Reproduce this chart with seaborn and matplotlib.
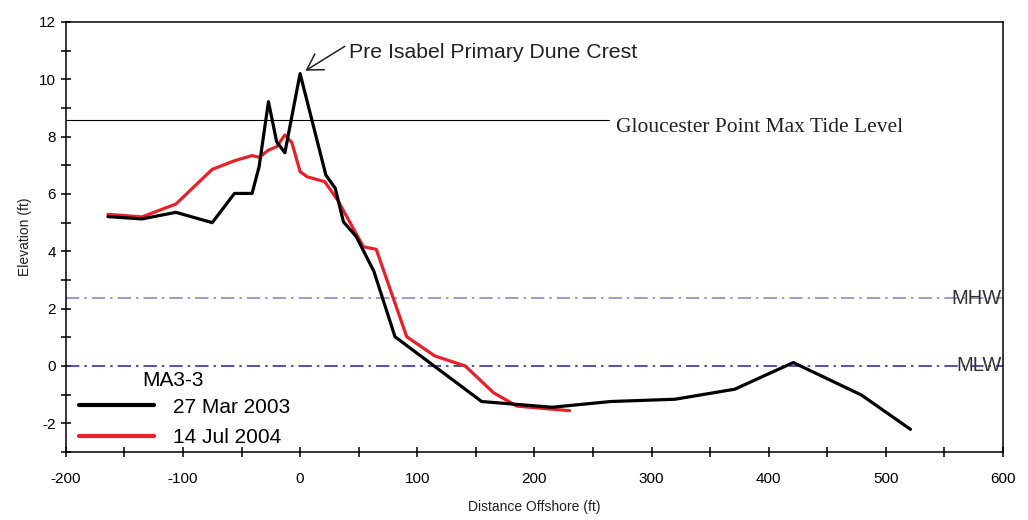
import numpy as np
import pandas as pd
import matplotlib
matplotlib.use("Agg")
import matplotlib.pyplot as plt
from matplotlib.ticker import MultipleLocator
import seaborn as sns

# ---- data ----
x_2003 = [-164, -135, -106, -75, -56, -41, -35, -27, -20, -13, 0, 22, 30, 37, 48, 63, 81, 155, 215, 265, 320, 371, 421, 479, 521]
y_2003 = [5.21, 5.13, 5.36, 5.00, 6.02, 6.02, 6.95, 9.22, 7.82, 7.44, 10.20, 6.66, 6.20, 5.03, 4.51, 3.30, 1.02, -1.24, -1.44, -1.24, -1.16, -0.81, 0.12, -1.01, -2.21]
x_2004 = [-164, -135, -106, -75, -56, -41, -35, -27, -20, -13, -7, 0, 6, 21, 32, 54, 65, 91, 115, 141, 165, 185, 230]
y_2004 = [5.29, 5.20, 5.65, 6.86, 7.16, 7.34, 7.28, 7.53, 7.65, 8.06, 7.79, 6.78, 6.60, 6.43, 5.79, 4.16, 4.07, 1.02, 0.35, 0.00, -0.93, -1.40, -1.56]
survey_labels = ["27 Mar 2003", "14 Jul 2004"]
profile_name = "MA3-3"
max_tide = 8.58
mhw = 2.37
mlw = 0.0
x_ticks = [-200, -100, 0, 100, 200, 300, 400, 500, 600]
y_ticks = [-2, 0, 2, 4, 6, 8, 10, 12]

df = pd.concat([
    pd.DataFrame({"dist": x_2003, "elev": y_2003, "survey": survey_labels[0]}),
    pd.DataFrame({"dist": x_2004, "elev": y_2004, "survey": survey_labels[1]}),
], ignore_index=True)

sns.set_style("white")
plt.rcParams["font.family"] = ["Liberation Sans", "DejaVu Sans"]
plt.rcParams["axes.unicode_minus"] = False
plt.rcParams["text.color"] = "black"

fig = plt.figure(figsize=(10.28, 5.2), dpi=100)
ax = fig.add_axes([0.064, 0.1308, 0.9117, 0.8269])

# reference lines
ax.plot([-200, 264], [max_tide, max_tide], color="black", lw=0.8, zorder=1)
ax.axhline(mhw, color="#8b8bc0", lw=1.2, ls=(0, (8, 3, 1.5, 3)), zorder=1)
ax.axhline(mlw, color="#3535a0", lw=1.2, ls=(0, (8, 3, 1.5, 3)), zorder=1)

sns.lineplot(data=df, x="dist", y="elev", hue="survey", sort=False,
             palette={survey_labels[0]: "black", survey_labels[1]: "#e8202a"},
             hue_order=[survey_labels[1], survey_labels[0]],
             lw=2.3, ax=ax, estimator=None, zorder=3)

ax.set_xlim(-200, 600)
ax.set_ylim(-3, 12)
ax.set_xticks(x_ticks)
ax.set_yticks(y_ticks)
ax.xaxis.set_minor_locator(MultipleLocator(50))
ax.yaxis.set_minor_locator(MultipleLocator(1))
ax.tick_params(which="both", direction="inout", length=7, width=1.1, colors="black",
               labelsize=11, left=True, bottom=True)
ax.tick_params(axis="x", which="major", pad=11)
for s in ax.spines.values():
    s.set_color("black")
    s.set_linewidth(1.1)
ax.set_xlabel("Distance Offshore (ft)", fontsize=10, labelpad=10, color="#222222")
ax.set_ylabel("Elevation (ft)", fontsize=10, labelpad=5, color="#222222")

# annotations
ax.annotate("Pre Isabel Primary Dune Crest", xy=(4.5, 10.3), xytext=(42, 10.95),
            fontsize=15.3, color="#222222", va="center", ha="left",
            arrowprops=dict(arrowstyle="->, head_length=0.5, head_width=0.3",
                            color="#222222", lw=1.1,
                            mutation_scale=22, shrinkA=1, shrinkB=0,
                            relpos=(0.0, 0.95)))
ax.text(270, max_tide - 0.25, "Gloucester Point Max Tide Level", fontsize=15.5,
        family=["Liberation Serif", "DejaVu Serif"], color="#222222", va="center", ha="left")
ax.text(599, mhw, "MHW", fontsize=14.5, color="#333333", va="center", ha="right")
ax.text(599, mlw, "MLW", fontsize=14.5, color="#333333", va="center", ha="right")

# legend
handles, labels = ax.get_legend_handles_labels()
order = [labels.index(l) for l in survey_labels]
leg = ax.legend([handles[i] for i in order], [labels[i] for i in order],
                loc="lower left", bbox_to_anchor=(0.0, -0.02),
                frameon=False, fontsize=15,
                handlelength=3.6, handletextpad=0.9, labelspacing=0.55,
                borderaxespad=0.25)
for h in leg.get_lines():
    h.set_linewidth(3.0)
for t in leg.get_texts():
    t.set_color("black")
ax.text(-135, -0.5, profile_name, fontsize=15, color="black", va="center", ha="left")

fig.savefig("out.png", dpi=100)
